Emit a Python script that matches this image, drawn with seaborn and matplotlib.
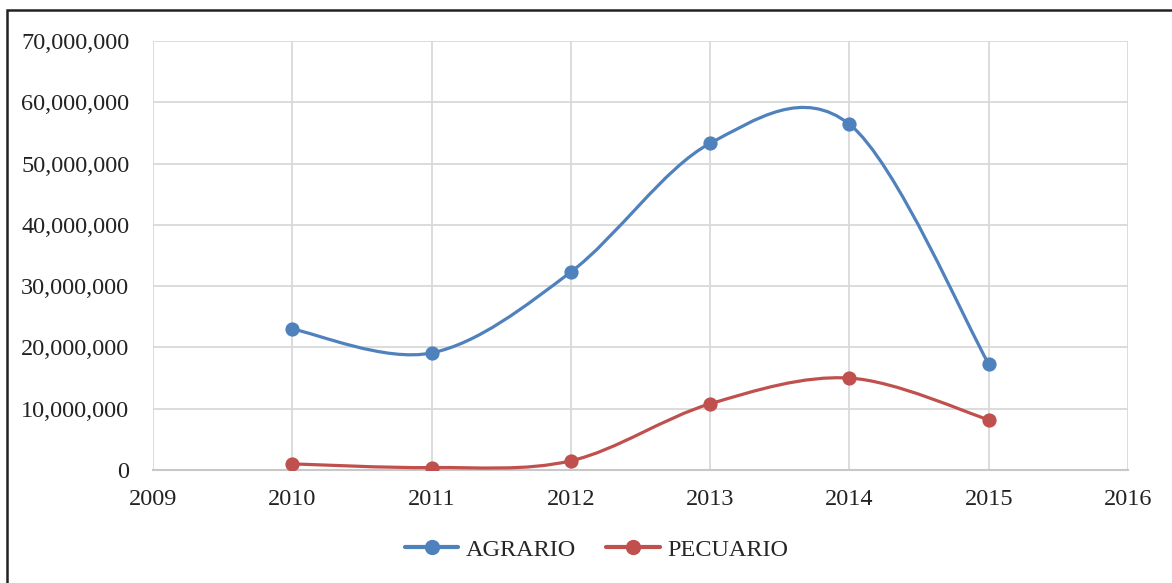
import numpy as np
import matplotlib
matplotlib.use("Agg")
import matplotlib.pyplot as plt
from matplotlib.path import Path
from matplotlib.patches import PathPatch, Rectangle
from matplotlib.ticker import FuncFormatter, MultipleLocator
from matplotlib.lines import Line2D
import seaborn as sns

# Data
years = [2010, 2011, 2012, 2013, 2014, 2015]
agrario = [23000000, 19100000, 32300000, 53300000, 56400000, 17300000]
pecuario = [1000000, 400000, 1500000, 10800000, 15000000, 8200000]

blue = "#4F81BD"
red = "#C0504D"

sns.set_style("white")
plt.rcParams["font.family"] = ["Liberation Serif", "DejaVu Serif"]


def smooth_path(x, y):
    # Excel-like smoothed line: Catmull-Rom converted to cubic Bezier
    x = np.asarray(x, float)
    y = np.asarray(y, float)
    verts = [(x[0], y[0])]
    codes = [Path.MOVETO]
    n = len(x)
    for i in range(n - 1):
        p0 = i - 1 if i > 0 else i
        p3 = i + 2 if i + 2 < n else i + 1
        c1 = (x[i] + (x[i + 1] - x[p0]) / 6, y[i] + (y[i + 1] - y[p0]) / 6)
        c2 = (x[i + 1] - (x[p3] - x[i]) / 6, y[i + 1] - (y[p3] - y[i]) / 6)
        verts += [c1, c2, (x[i + 1], y[i + 1])]
        codes += [Path.CURVE4] * 3
    return Path(verts, codes)


fig = plt.figure(figsize=(11.72, 5.83), dpi=100)
ax = fig.add_axes([0.1305, 0.1938, 0.832, 0.736])

for vals, col in [(agrario, blue), (pecuario, red)]:
    ax.add_patch(PathPatch(smooth_path(years, vals), facecolor="none",
                           edgecolor=col, lw=2.3, capstyle="round", zorder=3))
    sns.scatterplot(x=years, y=vals, color=col, s=105, edgecolor=col,
                    linewidth=0, ax=ax, zorder=4)

ax.set_xlim(2009, 2016)
ax.set_ylim(0, 70000000)
ax.xaxis.set_major_locator(MultipleLocator(1))
ax.yaxis.set_major_locator(MultipleLocator(10000000))
ax.yaxis.set_major_formatter(FuncFormatter(lambda v, p: f"{int(v):,}"))
ax.grid(True, color="#D9D9D9", lw=1.3)
ax.set_axisbelow(True)
for s in ["top", "right", "left"]:
    ax.spines[s].set_visible(False)
ax.spines["bottom"].set_color("#C8C8C8")
ax.spines["bottom"].set_linewidth(1.5)
ax.tick_params(axis="both", length=0, labelsize=17.5, colors="#222222")
ax.tick_params(axis="y", pad=17)
ax.tick_params(axis="x", pad=14)

handles = [Line2D([], [], color=blue, lw=3, marker="o", markersize=10),
           Line2D([], [], color=red, lw=3, marker="o", markersize=10)]
fig.legend(handles, ["AGRARIO", "PECUARIO"], loc="center",
           bbox_to_anchor=(0.509, 0.057), ncol=2, frameon=False,
           fontsize=17.5, handlelength=2.2, handletextpad=0.3,
           columnspacing=1.25)

fig.patches.append(Rectangle((7 / 1172, -0.05), 1.2, 1 - 10 / 583 + 0.05,
                             transform=fig.transFigure, fill=False,
                             edgecolor="#222222", lw=1.8))

fig.savefig("out.png", dpi=100)
